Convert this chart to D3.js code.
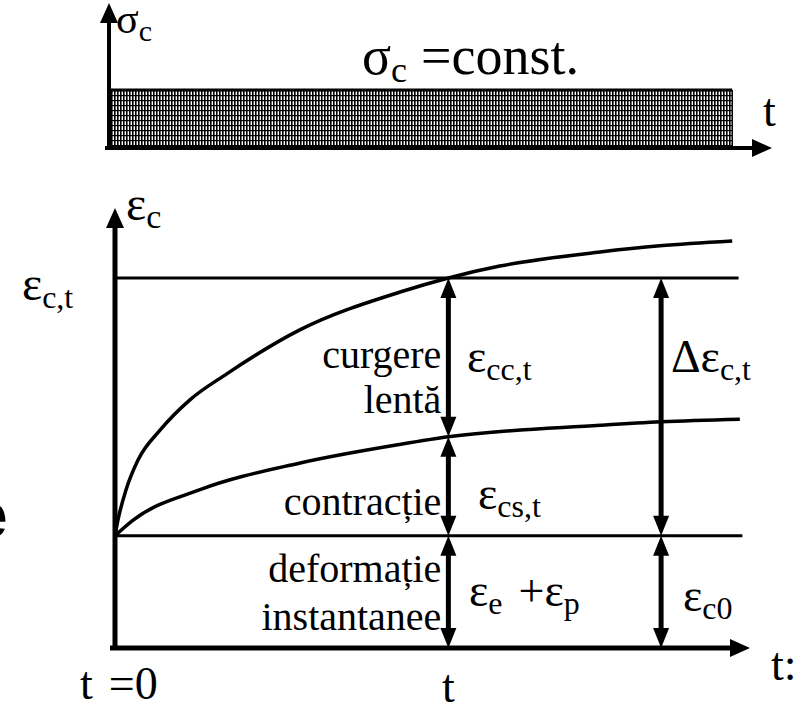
<!DOCTYPE html>
<html>
<head>
<meta charset="utf-8">
<script src="https://cdn.jsdelivr.net/npm/d3@7"></script>
</head>
<body style="margin:0">
<div id="chart"></div>
<script>
// stress diagram (top)
var stressTime = [0, 94];      // span of the constant load
var stressValue = 4;           // sigma_c = const.

// strain diagram (bottom)
var timeTotal = [0, 0.47, 1.73, 3.62, 7.09, 11.8, 17.6, 29.1, 44.9, 52.5, 60.6, 76.4, 85.8, 97.2];
var strainTotal = [25.5, 29.1, 35.9, 42.7, 49.5, 56.4, 62.3, 72.3, 80.9, 84.1, 86.8, 90, 91.4, 92.5];
var timeShrink = [0, 2.8, 13.4, 29, 45, 52.5, 76.4, 86, 98.4];
var strainShrink = [25.5, 29, 36, 42, 46.3, 48, 50.6, 51.4, 52];
var levelTime = [0, 98.2];
var strainInst = 25.5;  // eps_c0
var strainAtT = 84.1;   // eps_c,t
var tMark = 52.5;       // time t
var tRef = 86;          // where delta eps is shown

var leftLabels = ["curgere", "lentă", "contracție", "deformație", "instantanee"];

var SERIF = "'Liberation Serif'";

function label(g, px, py, size, s){
    var t = g.append("text").attr("x", px).attr("y", py)
        .attr("font-family", "Liberation Serif")
        .style("font-family", SERIF, "important")
        .attr("font-size", size);
    if (s) t.text(s);
    return t;
}

function tsp(t){
    return t.append("tspan").style("font-family", SERIF, "important");
}

function addSub(g, px, py, main, sub, size, subSize){
    var t = label(g, px, py, size, null);
    tsp(t).text(main);
    tsp(t).attr("font-size", subSize).attr("dy", 8).text(sub);
    return t;
}

function axisArrow(g, x1, y1, x2, y2, sw){
    var a = Math.atan2(y2 - y1, x2 - x1), len = 20, wid = 9;
    var bx = x2 - len * Math.cos(a), by = y2 - len * Math.sin(a);
    g.append("line").attr("x1", x1).attr("y1", y1).attr("x2", bx).attr("y2", by)
        .attr("stroke", "#000").attr("stroke-width", sw);
    var px = -Math.sin(a) * wid, py = Math.cos(a) * wid;
    g.append("path")
        .attr("d", "M" + x2 + "," + y2 + "L" + (bx + px) + "," + (by + py) + "L" + (bx - px) + "," + (by - py) + "Z")
        .attr("fill", "#000");
}

function dblArrow(g, px, yTop, yBot){
    var len = 20, wid = 8;
    g.append("line").attr("x1", px).attr("x2", px)
        .attr("y1", yTop + len - 2).attr("y2", yBot - len + 2)
        .attr("stroke", "#000").attr("stroke-width", 5);
    g.append("path")
        .attr("d", "M" + px + "," + yTop + "L" + (px - wid) + "," + (yTop + len) + "L" + (px + wid) + "," + (yTop + len) + "Z")
        .attr("fill", "#000");
    g.append("path")
        .attr("d", "M" + px + "," + yBot + "L" + (px - wid) + "," + (yBot - len) + "L" + (px + wid) + "," + (yBot - len) + "Z")
        .attr("fill", "#000");
}

var w = 796, h = 712;
var svg = d3.select("#chart").append("svg")
            .attr("width", w).attr("height", h);

// ---------- top panel ----------
var xTop = d3.scaleLinear().domain([0, 100]).range([109, 772]);
var yTop = d3.scaleLinear().domain([0, 10]).range([148, 3]);

var pat = svg.append("defs").append("pattern").attr("id", "hatch")
            .attr("patternUnits", "userSpaceOnUse")
            .attr("width", 3).attr("height", 5);
pat.append("rect").attr("width", 3).attr("height", 5).attr("fill", "#fff");
pat.append("rect").attr("x", 0).attr("width", 1.6).attr("height", 5).attr("fill", "#000");
pat.append("rect").attr("y", 0).attr("width", 3).attr("height", 1.2).attr("fill", "#000");

svg.append("rect")
    .attr("x", xTop(stressTime[0]))
    .attr("y", yTop(stressValue))
    .attr("width", xTop(stressTime[1]) - xTop(stressTime[0]))
    .attr("height", yTop(0) - yTop(stressValue))
    .attr("fill", "url(#hatch)");
svg.append("line") // top edge of the load block
    .attr("x1", xTop(0)).attr("x2", xTop(stressTime[1]))
    .attr("y1", yTop(stressValue)).attr("y2", yTop(stressValue))
    .attr("stroke", "#000").attr("stroke-width", 3);
svg.append("line")
    .attr("x1", xTop(stressTime[1])).attr("x2", xTop(stressTime[1]))
    .attr("y1", yTop(stressValue)).attr("y2", yTop(0))
    .attr("stroke", "#000").attr("stroke-width", 1.5);

// axes of the top panel
axisArrow(svg, xTop(0) - 4, yTop(0), xTop(100), yTop(0), 4);
axisArrow(svg, xTop(0), yTop(0) + 2, xTop(0), yTop(10), 4);

addSub(svg, 116, 33, "σ", "c", 42, 30);
var sc = addSub(svg, 362, 74, "σ", "c", 54, 36);
tsp(sc).attr("dy", -8).attr("dx", 14).text("=const.");
label(svg, 763, 126, 46, "t");

// ---------- bottom panel ----------
var x = d3.scaleLinear().domain([0, 100]).range([115, 750]);
var y = d3.scaleLinear().domain([0, 100]).range([648, 208]);

var line = d3.line()
            .x(function(d){ return x(d[0]); })
            .y(function(d){ return y(d[1]); })
            .curve(d3.curveMonotoneX);

// horizontal reference levels
[strainAtT, strainInst].forEach(function(v, i){
    svg.append("line")
        .attr("x1", x(levelTime[0])).attr("x2", x(levelTime[1] + i * 0.6))
        .attr("y1", y(v)).attr("y2", y(v))
        .attr("stroke", "#000").attr("stroke-width", 3);
});

svg.append("path")
    .datum(d3.zip(timeTotal, strainTotal))
    .attr("d", line)
    .attr("fill", "none").attr("stroke", "#000").attr("stroke-width", 3.5);
svg.append("path")
    .datum(d3.zip(timeShrink, strainShrink))
    .attr("d", line)
    .attr("fill", "none").attr("stroke", "#000").attr("stroke-width", 3.5);

// axes
axisArrow(svg, x(0) - 5, y(0), x(100), y(0), 5);
axisArrow(svg, x(0), y(0) + 2, x(0), y(100), 5);

// double arrows at t
var shrinkAt = d3.scaleLinear().domain(timeShrink).range(strainShrink);
dblArrow(svg, x(tMark), y(strainAtT), y(shrinkAt(tMark)));
dblArrow(svg, x(tMark), y(shrinkAt(tMark)), y(strainInst));
dblArrow(svg, x(tMark), y(strainInst), y(0));
// double arrows at the reference time
dblArrow(svg, x(tRef), y(strainAtT), y(strainInst));
dblArrow(svg, x(tRef), y(strainInst), y(0));

// labels on the left of the arrows
var labelY = [368, 413, 515, 582, 630];
leftLabels.forEach(function(s, i){
    label(svg, x(tMark) - 7, labelY[i], 40, s).attr("text-anchor", "end");
});

addSub(svg, 467, 372, "ε", "cc,t", 46, 32);
addSub(svg, 478, 509, "ε", "cs,t", 46, 32);
var ep = addSub(svg, 469, 606, "ε", "e", 46, 32);
tsp(ep).attr("dy", -8).attr("dx", 16).text("+ε");
tsp(ep).attr("font-size", 32).attr("dy", 8).text("p");
addSub(svg, 671, 372, "Δε", "c,t", 46, 32);
addSub(svg, 683, 611, "ε", "c0", 46, 32);

addSub(svg, 22, 300, "ε", "c,t", 48, 32);
addSub(svg, 126, 220, "ε", "c", 48, 34);

var t0 = label(svg, 80, 699, 46, "t");
tsp(t0).attr("dx", 16).text("=0");
label(svg, x(tMark), 702, 46, "t").attr("text-anchor", "middle");
label(svg, 771, 680, 46, "t:");

// stray letter cut at the left border
svg.append("text").attr("x", -29).attr("y", 538)
    .style("font-family", "'Liberation Sans'")
    .attr("font-weight", "bold").attr("font-size", 66).text("e");
</script>
</body>
</html>
